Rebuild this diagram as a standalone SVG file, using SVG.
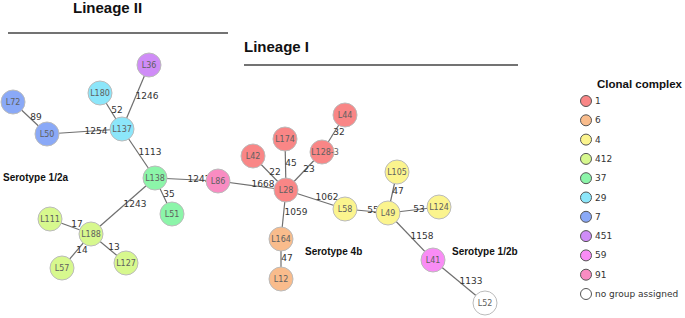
<svg xmlns="http://www.w3.org/2000/svg" width="685" height="318" viewBox="0 0 685 318">
<style>
.title{font-family:"Liberation Sans",Arial,sans-serif;font-weight:bold;font-size:15px;fill:#111}
.sero{font-family:"Liberation Sans",Arial,sans-serif;font-weight:bold;font-size:10px;fill:#111}
.rule{stroke:#444;stroke-width:1.3}
.edge{stroke:#6f6f6f;stroke-width:1.2;fill:none}
.el{font-family:"DejaVu Sans",Verdana,sans-serif;font-size:9px;fill:#333;text-anchor:middle;dominant-baseline:central}
.node circle{stroke:#bbb;stroke-width:1}
.node text{font-family:"DejaVu Sans",Verdana,sans-serif;font-size:8px;fill:#606060;text-anchor:middle;dominant-baseline:central}
.leg circle{stroke:#555;stroke-width:1}
.leg text{font-family:"DejaVu Sans",Verdana,sans-serif;font-size:9px;fill:#333;dominant-baseline:central}
.leg text.legt{font-family:"Liberation Sans",Arial,sans-serif;font-weight:bold;font-size:11.5px;fill:#111;dominant-baseline:auto}
.c1{fill:#f98686}.c6{fill:#f9bc8c}.c4{fill:#fbf48e}.c412{fill:#d7f88e}.c37{fill:#8cf5a9}
.c29{fill:#8ce6fa}.c7{fill:#8aa9f7}.c451{fill:#cf8cf7}.c59{fill:#f98cf5}.c91{fill:#f98cc2}.cn{fill:#fff}
</style>
<rect width="685" height="318" fill="#fff"/>
<g id="titles">
<text class="title" x="73" y="13">Lineage II</text>
<line class="rule" x1="8" y1="33" x2="228" y2="33"/>
<text class="title" x="244" y="52">Lineage I</text>
<line class="rule" x1="244" y1="65" x2="518" y2="65"/>
<text class="sero" x="3" y="181">Serotype 1/2a</text>
<text class="sero" x="305" y="255">Serotype 4b</text>
<text class="sero" x="452" y="255">Serotype 1/2b</text>
</g>
<g id="connectors">
<line class="edge" x1="13" y1="102" x2="47" y2="134"/>
<line class="edge" x1="47" y1="134" x2="122" y2="129"/>
<line class="edge" x1="100" y1="93" x2="122" y2="129"/>
<line class="edge" x1="149" y1="65" x2="122" y2="129"/>
<line class="edge" x1="122" y1="129" x2="155" y2="178"/>
<line class="edge" x1="155" y1="178" x2="218" y2="181"/>
<line class="edge" x1="155" y1="178" x2="172" y2="214"/>
<line class="edge" x1="155" y1="178" x2="91" y2="234"/>
<line class="edge" x1="50" y1="219" x2="91" y2="234"/>
<line class="edge" x1="91" y1="234" x2="62" y2="268"/>
<line class="edge" x1="91" y1="234" x2="126" y2="263"/>
<line class="edge" x1="218" y1="181" x2="286" y2="190"/>
<line class="edge" x1="253" y1="156" x2="286" y2="190"/>
<line class="edge" x1="285" y1="139" x2="286" y2="190"/>
<line class="edge" x1="322" y1="152" x2="286" y2="190"/>
<line class="edge" x1="345" y1="115" x2="322" y2="152"/>
<line class="edge" x1="286" y1="190" x2="281" y2="239"/>
<line class="edge" x1="281" y1="239" x2="281" y2="279"/>
<line class="edge" x1="286" y1="190" x2="345" y2="209"/>
<line class="edge" x1="345" y1="209" x2="388" y2="213"/>
<line class="edge" x1="397" y1="172" x2="388" y2="213"/>
<line class="edge" x1="388" y1="213" x2="439" y2="207"/>
<line class="edge" x1="388" y1="213" x2="433" y2="260"/>
<line class="edge" x1="433" y1="260" x2="485" y2="303"/>
<text class="el" x="36" y="117">89</text>
<text class="el" x="96" y="131">1254</text>
<text class="el" x="117" y="110">52</text>
<text class="el" x="147" y="96">1246</text>
<text class="el" x="150" y="152">1113</text>
<text class="el" x="199" y="179">1242</text>
<text class="el" x="169" y="194">35</text>
<text class="el" x="135" y="204">1243</text>
<text class="el" x="77" y="224">17</text>
<text class="el" x="82" y="250">14</text>
<text class="el" x="114" y="247">13</text>
<text class="el" x="263" y="184">1668</text>
<text class="el" x="275" y="172">22</text>
<text class="el" x="291" y="163">45</text>
<text class="el" x="309" y="169">23</text>
<text class="el" x="339" y="132">32</text>
<text class="el" x="296" y="212">1059</text>
<text class="el" x="287" y="258">47</text>
<text class="el" x="327" y="197">1062</text>
<text class="el" x="373" y="210">55</text>
<text class="el" x="398" y="191">47</text>
<text class="el" x="419" y="209">53</text>
<text class="el" x="422" y="236">1158</text>
<text class="el" x="471" y="281">1133</text>
</g>
<g id="n-L72" class="node"><circle class="c7" cx="13" cy="102" r="12"/><text x="13" y="102">L72</text></g>
<g id="n-L50" class="node"><circle class="c7" cx="47" cy="134" r="12"/><text x="47" y="134">L50</text></g>
<g id="n-L180" class="node"><circle class="c29" cx="100" cy="93" r="12"/><text x="100" y="93">L180</text></g>
<g id="n-L36" class="node"><circle class="c451" cx="149" cy="65" r="12"/><text x="149" y="65">L36</text></g>
<g id="n-L137" class="node"><circle class="c29" cx="122" cy="129" r="12"/><text x="122" y="129">L137</text></g>
<g id="n-L138" class="node"><circle class="c37" cx="155" cy="178" r="12"/><text x="155" y="178">L138</text></g>
<g id="n-L51" class="node"><circle class="c37" cx="172" cy="214" r="12"/><text x="172" y="214">L51</text></g>
<g id="n-L111" class="node"><circle class="c412" cx="50" cy="219" r="12"/><text x="50" y="219">L111</text></g>
<g id="n-L188" class="node"><circle class="c412" cx="91" cy="234" r="12"/><text x="91" y="234">L188</text></g>
<g id="n-L57" class="node"><circle class="c412" cx="62" cy="268" r="12"/><text x="62" y="268">L57</text></g>
<g id="n-L127" class="node"><circle class="c412" cx="126" cy="263" r="12"/><text x="126" y="263">L127</text></g>
<g id="n-L86" class="node"><circle class="c91" cx="218" cy="181" r="12"/><text x="218" y="181">L86</text></g>
<g id="n-L42" class="node"><circle class="c1" cx="253" cy="156" r="12"/><text x="253" y="156">L42</text></g>
<g id="n-L174" class="node"><circle class="c1" cx="285" cy="139" r="12"/><text x="285" y="139">L174</text></g>
<g id="n-L128-3" class="node"><circle class="c1" cx="322" cy="152" r="12"/><text x="325" y="152">L128-3</text></g>
<g id="n-L44" class="node"><circle class="c1" cx="345" cy="115" r="12"/><text x="345" y="115">L44</text></g>
<g id="n-L28" class="node"><circle class="c1" cx="286" cy="190" r="12"/><text x="286" y="190">L28</text></g>
<g id="n-L164" class="node"><circle class="c6" cx="281" cy="239" r="12"/><text x="281" y="239">L164</text></g>
<g id="n-L12" class="node"><circle class="c6" cx="281" cy="279" r="12"/><text x="281" y="279">L12</text></g>
<g id="n-L58" class="node"><circle class="c4" cx="345" cy="209" r="12"/><text x="345" y="209">L58</text></g>
<g id="n-L49" class="node"><circle class="c4" cx="388" cy="213" r="12"/><text x="388" y="213">L49</text></g>
<g id="n-L105" class="node"><circle class="c4" cx="397" cy="172" r="12"/><text x="397" y="172">L105</text></g>
<g id="n-L124" class="node"><circle class="c4" cx="439" cy="207" r="12"/><text x="439" y="207">L124</text></g>
<g id="n-L41" class="node"><circle class="c59" cx="433" cy="260" r="12"/><text x="433" y="260">L41</text></g>
<g id="n-L52" class="node"><circle class="cn" cx="485" cy="303" r="12"/><text x="485" y="303">L52</text></g>
<g id="legend" class="leg">
<text class="legt" x="597" y="88">Clonal complex</text>
<circle class="c1" cx="586" cy="101" r="5.5"/><text x="595" y="101">1</text>
<circle class="c6" cx="586" cy="120.3" r="5.5"/><text x="595" y="120.3">6</text>
<circle class="c4" cx="586" cy="139.6" r="5.5"/><text x="595" y="139.6">4</text>
<circle class="c412" cx="586" cy="158.9" r="5.5"/><text x="595" y="158.9">412</text>
<circle class="c37" cx="586" cy="178.2" r="5.5"/><text x="595" y="178.2">37</text>
<circle class="c29" cx="586" cy="197.5" r="5.5"/><text x="595" y="197.5">29</text>
<circle class="c7" cx="586" cy="216.8" r="5.5"/><text x="595" y="216.8">7</text>
<circle class="c451" cx="586" cy="236.1" r="5.5"/><text x="595" y="236.1">451</text>
<circle class="c59" cx="586" cy="255.4" r="5.5"/><text x="595" y="255.4">59</text>
<circle class="c91" cx="586" cy="274.7" r="5.5"/><text x="595" y="274.7">91</text>
<circle class="cn" cx="586" cy="294" r="5.5"/><text x="595" y="294">no group assigned</text>
</g>
</svg>
